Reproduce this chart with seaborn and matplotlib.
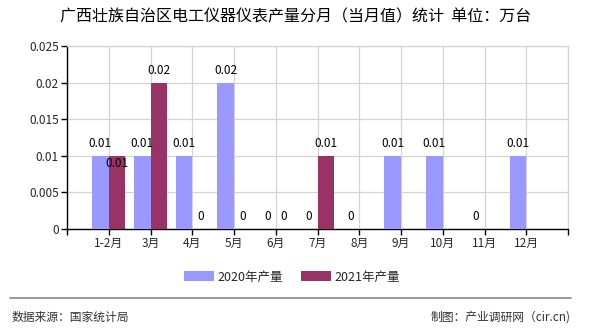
import numpy as np
import pandas as pd
import matplotlib
matplotlib.use("Agg")
import matplotlib.pyplot as plt
from matplotlib.patches import Patch
import seaborn as sns

# Monthly output (万台), Guangxi electrical instruments
months = ["1-2月", "3月", "4月", "5月", "6月", "7月", "8月", "9月", "10月", "11月", "12月"]
output_2020 = [0.01, 0.01, 0.01, 0.02, 0, 0, 0, 0.01, 0.01, 0, 0.01]
output_2021 = [0.01, 0.02, 0, 0, 0, 0.01, np.nan, np.nan, np.nan, np.nan, np.nan]
series_names = ["2020年产量", "2021年产量"]
colors = ["#9999FF", "#993366"]
y_ticks = [0, 0.005, 0.01, 0.015, 0.02, 0.025]

df = pd.DataFrame({
    "月份": months * 2,
    "产量": output_2020 + output_2021,
    "系列": [series_names[0]] * len(months) + [series_names[1]] * len(months),
})

sns.set_theme(style="white")
plt.rcParams["font.family"] = ["Noto Sans CJK SC", "DejaVu Sans"]

fig = plt.figure(figsize=(5.9, 3.3), dpi=100)
ax = fig.add_axes([67 / 590, 1 - 229 / 330, (568 - 67) / 590, (229 - 46) / 330])

sns.barplot(data=df, x="月份", y="产量", hue="系列", palette=colors,
            width=0.8, saturation=1, linewidth=0, edgecolor="none",
            ax=ax, legend=False, zorder=3)

ax.set_xlim(-1, len(months))
ax.set_ylim(0, 0.025)
ax.set_xlabel("")
ax.set_ylabel("")

# grid: horizontal at y ticks, vertical at category centres
ax.set_yticks(y_ticks)
ax.set_yticklabels([f"{v:g}" for v in y_ticks], fontsize=8.5)
ax.set_xticks(range(-1, len(months) + 1))
ax.set_xticklabels([""] + months + [""], fontsize=8.5)
ax.grid(True, color="#d4d4d4", linewidth=0.9, zorder=0)
ax.set_axisbelow(True)
ax.tick_params(axis="both", length=4, width=1, color="black", direction="out",
               pad=2, bottom=True, left=True)
for side in ("top", "right"):
    ax.spines[side].set_color("#d4d4d4")
    ax.spines[side].set_linewidth(0.9)
for side in ("left", "bottom"):
    ax.spines[side].set_color("black")
    ax.spines[side].set_linewidth(1)

# value labels
offsets = [-0.2, 0.2]
for i in range(len(months)):
    vals = [output_2020[i], output_2021[i]]
    for s, v in enumerate(vals):
        if np.isnan(v):
            continue
        dy = 12
        # second label would collide with the first one: push it inside the bar
        if s == 1 and v > 0 and vals[0] == v:
            dy = -8
        ax.annotate(f"{v:g}", xy=(i + offsets[s], v), xytext=(0, dy),
                    textcoords="offset pixels",
                    ha="center", va="center", fontsize=8.5, color="black",
                    zorder=5)

# title
fig.text(296 / 590, 1 - 17 / 330, "广西壮族自治区电工仪器仪表产量分月（当月值）统计  单位：万台",
         ha="center", va="center", fontsize=11.5, color="black")

# legend
handles = [Patch(facecolor=c, edgecolor="none") for c in colors]
fig.legend(handles, series_names, loc="center", bbox_to_anchor=(292 / 590, 1 - 277 / 330),
           ncol=2, frameon=False, fontsize=9, handlelength=2.4, handleheight=0.9,
           columnspacing=1.4, handletextpad=0.3)

# footer
fig.add_artist(plt.Line2D([10 / 590, 571 / 590], [1 - 298 / 330, 1 - 298 / 330],
                          color="#888888", linewidth=1.2, transform=fig.transFigure))
fig.text(12 / 590, 1 - 317 / 330, "数据来源：国家统计局", ha="left", va="center",
         fontsize=8.5, color="#333333")
fig.text(571 / 590, 1 - 317 / 330, "制图：产业调研网（cir.cn)", ha="right", va="center",
         fontsize=8.5, color="#333333")

fig.savefig("out.png", dpi=100)
